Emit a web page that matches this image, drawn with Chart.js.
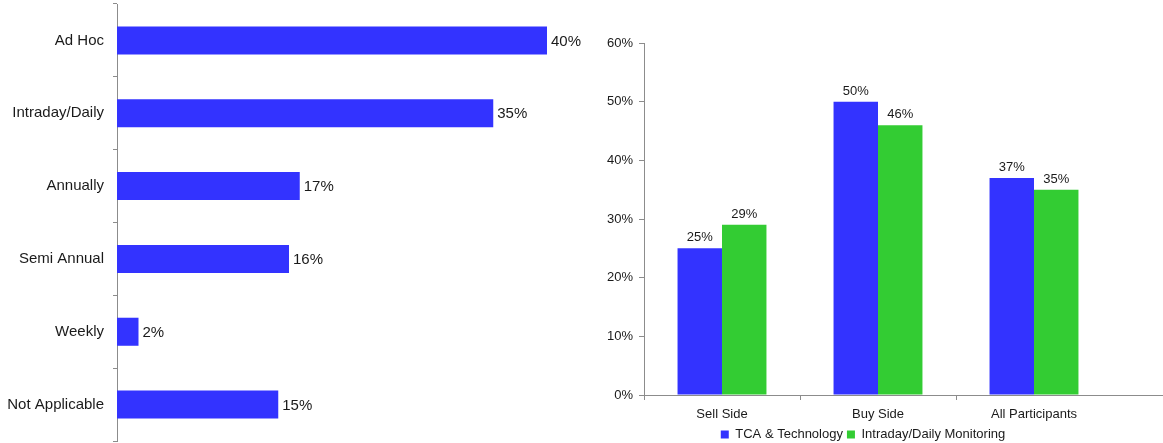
<!DOCTYPE html>
<html>
<head>
<meta charset="utf-8">
<script src="https://cdn.jsdelivr.net/npm/chart.js@4.4.0/dist/chart.umd.min.js"></script>
<style>
  body { margin: 0; background: #fff; }
  #freqBox { position: absolute; left: 0; top: 0; }
  #segBox { position: absolute; left: 590px; top: 0; }
</style>
</head>
<body>
<div id="freqBox"><canvas id="freqChart" width="590" height="443"></canvas></div>
<div id="segBox"><canvas id="segChart" width="573" height="443"></canvas></div>
<script>
// review frequency (left)
const frequencyLabels = ["Ad Hoc", "Intraday/Daily", "Annually", "Semi Annual", "Weekly", "Not Applicable"];
const frequencyValues = [40, 35, 17, 16, 2, 15];

// participant segments (right)
const segmentLabels = ["Sell Side", "Buy Side", "All Participants"];
const tcaValues = [25, 50, 37];
const monitoringValues = [29, 46, 35];
const seriesNames = ["TCA & Technology", "Intraday/Daily Monitoring"];

const BLUE = "#3333ff";
const GREEN = "#33cc33";
const AXIS = "#8c8c8c";
const TEXT = "#1a1a1a";
const FONT = "'Liberation Sans', Arial, sans-serif";

// draws "NN%" next to / above each bar
const valueLabels = {
    id: "valueLabels",
    afterDatasetsDraw(chart, args, opts) {
        const ctx = chart.ctx;
        ctx.save();
        ctx.font = opts.size + "px " + FONT;
        ctx.fillStyle = TEXT;
        chart.data.datasets.forEach((ds, i) => {
            chart.getDatasetMeta(i).data.forEach((bar, j) => {
                const text = ds.data[j] + "%";
                if (opts.horizontal) {
                    ctx.textAlign = "left";
                    ctx.textBaseline = "middle";
                    ctx.fillText(text, bar.x + 4, bar.y + 1);
                } else {
                    ctx.textAlign = "center";
                    ctx.textBaseline = "alphabetic";
                    ctx.fillText(text, bar.x, bar.y - 7);
                }
            });
        });
        ctx.restore();
    }
};

// carry the category axis line on to the canvas edge, nudge the legend
const axisRun = {
    id: "axisRun",
    afterLayout(chart, args, opts) {
        chart.legend.left += opts.legendShift;
        chart.legend.right += opts.legendShift;
    },
    afterDraw(chart) {
        const ctx = chart.ctx;
        const y = chart.chartArea.bottom + 0.5;
        ctx.save();
        ctx.strokeStyle = AXIS;
        ctx.lineWidth = 1;
        ctx.beginPath();
        ctx.moveTo(chart.chartArea.right, y);
        ctx.lineTo(chart.width, y);
        ctx.stroke();
        ctx.restore();
    }
};

new Chart(document.getElementById("freqChart"), {
    type: "bar",
    data: {
        labels: frequencyLabels,
        datasets: [{
            data: frequencyValues,
            backgroundColor: BLUE,
            categoryPercentage: 1,
            barPercentage: 0.385
        }]
    },
    options: {
        indexAxis: "y",
        responsive: false,
        animation: false,
        layout: { padding: { top: 4, bottom: 2, right: 0 } },
        plugins: {
            legend: { display: false },
            tooltip: { enabled: false },
            valueLabels: { horizontal: true, size: 15 }
        },
        scales: {
            x: { display: false, min: 0, max: 44 },
            y: {
                afterFit: s => { s.width = 117; s.paddingTop = 0; s.paddingBottom = 0; },
                border: { color: AXIS, width: 1 },
                grid: { drawOnChartArea: false, tickLength: 4, color: AXIS },
                ticks: { padding: 9, color: TEXT, font: { family: FONT, size: 15 } }
            }
        }
    },
    plugins: [valueLabels]
});

new Chart(document.getElementById("segChart"), {
    type: "bar",
    data: {
        labels: segmentLabels,
        datasets: [
            { label: seriesNames[0], data: tcaValues, backgroundColor: BLUE },
            { label: seriesNames[1], data: monitoringValues, backgroundColor: GREEN }
        ]
    },
    options: {
        responsive: false,
        animation: false,
        datasets: { bar: { categoryPercentage: 0.57, barPercentage: 1 } },
        layout: { padding: { top: 43, left: 0, right: 51, bottom: -8 } },
        plugins: {
            legend: {
                position: "bottom",
                labels: {
                    boxWidth: 8,
                    boxHeight: 8,
                    padding: 4,
                    color: TEXT,
                    font: { family: FONT, size: 13 }
                }
            },
            tooltip: { enabled: false },
            valueLabels: { horizontal: false, size: 13 },
            axisRun: { legendShift: 12 }
        },
        scales: {
            x: {
                afterFit: s => { s.height = 29; },
                border: { color: AXIS, width: 1 },
                grid: {
                    drawOnChartArea: false,
                    tickLength: 5,
                    color: ctx => ctx.tick ? AXIS : "rgba(0,0,0,0)"
                },
                ticks: { padding: 7, color: TEXT, font: { family: FONT, size: 13 } }
            },
            y: {
                min: 0,
                max: 60,
                afterFit: s => { s.width = 54; },
                border: { color: AXIS, width: 1 },
                grid: { drawOnChartArea: false, tickLength: 5, color: AXIS },
                ticks: {
                    stepSize: 10,
                    padding: 6,
                    color: TEXT,
                    font: { family: FONT, size: 13 },
                    callback: v => v + "%"
                }
            }
        }
    },
    plugins: [valueLabels, axisRun]
});
</script>
</body>
</html>
